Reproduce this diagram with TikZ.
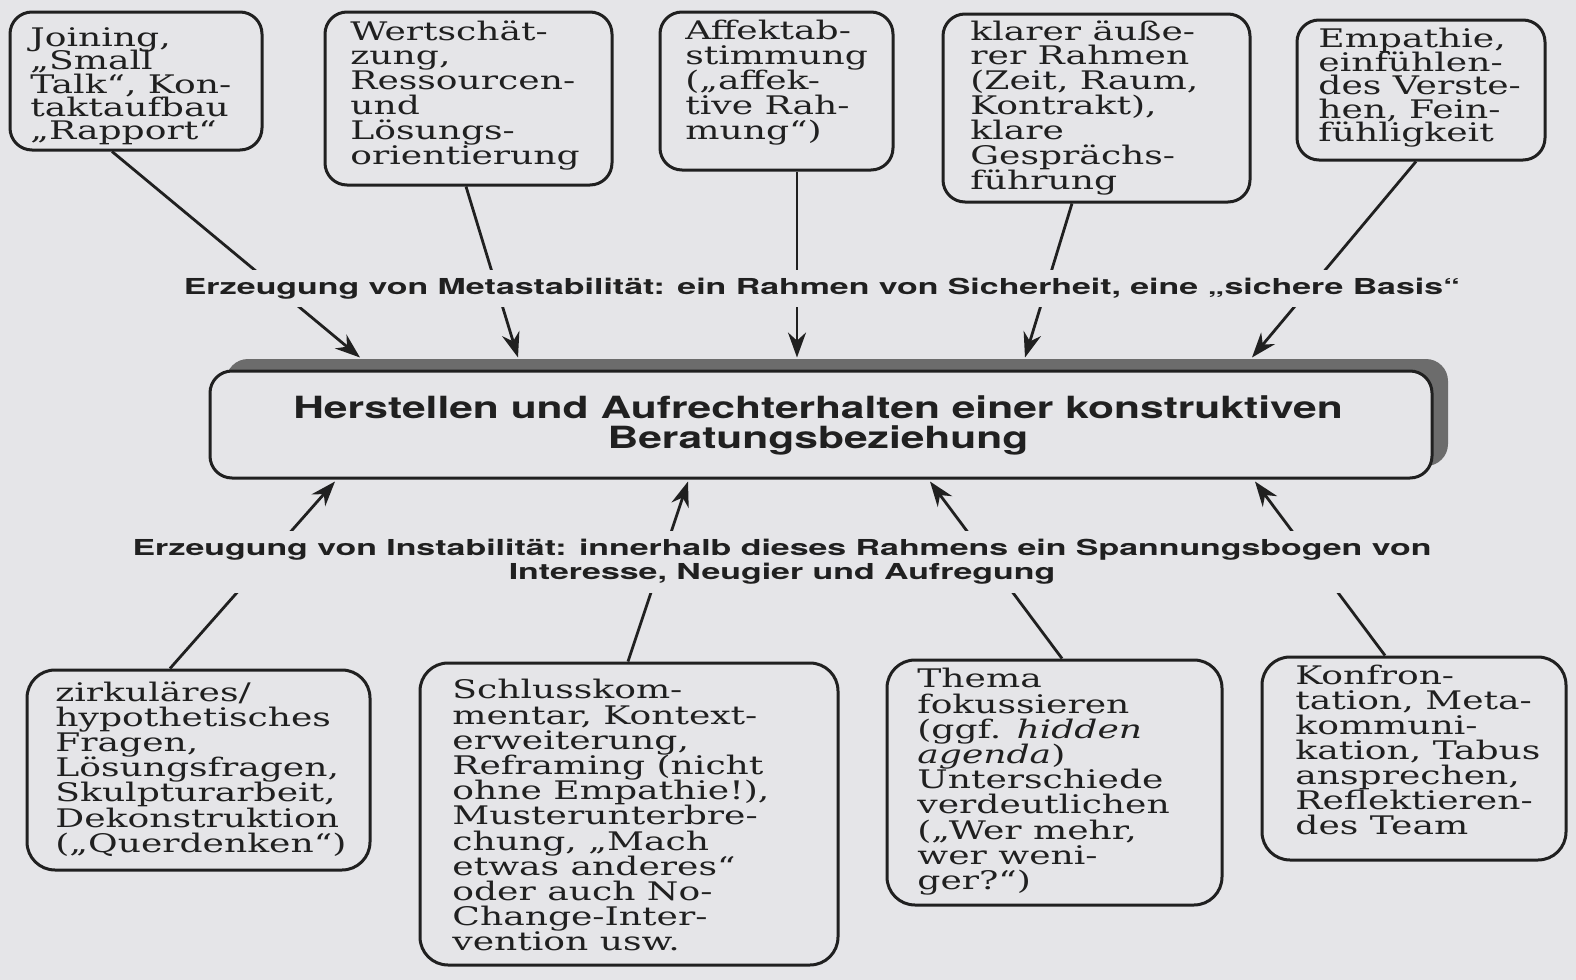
\documentclass[tikz,border=0pt]{standalone}
\usepackage{fontspec}
\setmainfont{DejaVu Serif}[FakeStretch=1.41]
\newfontfamily\headfont{TeX Gyre Heros}[FakeStretch=1.39]
\newfontfamily\labfont{TeX Gyre Heros}[FakeStretch=1.54]
\usetikzlibrary{arrows.meta,fit,calc}
\definecolor{bg}{RGB}{229,229,232}
\definecolor{ink}{RGB}{32,32,32}
\definecolor{shadowc}{RGB}{108,108,108}
\newcommand\tightlines{\lineskiplimit=-50pt\relax\lineskip=0pt\relax}
\tikzset{
  box/.style={draw=ink, line width=1.5pt, rounded corners=11pt, inner sep=0pt},
  bbox/.style={box, rounded corners=14pt},
  txt/.style={anchor=north west, inner sep=0pt, align=left, text=ink,
    font=\fontsize{12.8pt}{12.45pt}\selectfont\tightlines},
  txtsm/.style={txt, font=\fontsize{12.8pt}{11.7pt}\selectfont\tightlines},
  txtlg/.style={txt, font=\fontsize{12.8pt}{12.6pt}\selectfont\tightlines},
  conn/.style={draw=ink, line width=1.4pt, -{Stealth[length=12.5pt,width=9pt]}},
  lab/.style={fill=bg, inner xsep=2pt, inner ysep=4pt, text=ink, align=center,
    font=\labfont\bfseries\fontsize{11pt}{12pt}\selectfont},
  head/.style={inner sep=0pt, text=ink, align=center,
    font=\headfont\bfseries\fontsize{15.3pt}{15pt}\selectfont}
}
\begin{document}
\begin{tikzpicture}[x=0.5pt,y=-0.5pt]
\fill[bg] (0,0) rectangle (1576,980);
\useasboundingbox (0,0) rectangle (1576,980);

% top boxes
\node[box, fit={(10,12) (262,150)}] (b1) {};
\node[box, fit={(325,12) (612,185)}] (b2) {};
\node[box, fit={(660,12) (893,170)}] (b3) {};
\node[box, fit={(943,14) (1250,202)}] (b4) {};
\node[box, fit={(1297,20) (1545,160)}] (b5) {};

\node[txtsm] (t1) at (30,27) {Joining,\\„Small\\Talk“, Kon-\\taktaufbau\\„Rapport“};
\node[txt] (t2) at (350,20) {Wertschät-\\zung,\\Ressourcen-\\und\\Lösungs-\\orientierung};
\node[txt] (t3) at (685,20) {Affektab-\\stimmung\\(„affek-\\tive Rah-\\mung“)};
\node[txt] (t4) at (970,20) {klarer äuße-\\rer Rahmen\\(Zeit, Raum,\\Kontrakt),\\klare\\Gesprächs-\\führung};
\node[txtsm] (t5) at (1318,28) {Empathie,\\einfühlen-\\des Verste-\\hen, Fein-\\fühligkeit};

% main box with shadow
\node[box, draw=none, fill=shadowc, fit={(226,359) (1448,466)}] (sh) {};
\node[box, fill=bg, fit={(210,371) (1432,478)}] (m) {};
\node[head, anchor=north] (mt) at (818,395) {Herstellen und Aufrechterhalten einer konstruktiven\\Beratungsbeziehung};

% bottom boxes
\node[bbox, fit={(27,670) (370,870)}] (b6) {};
\node[bbox, fit={(420,663) (838,965)}] (b7) {};
\node[bbox, fit={(887,660) (1222,905)}] (b8) {};
\node[bbox, fit={(1262,657) (1566,860)}] (b9) {};

\node[txtlg] (t6) at (55,681) {zirkuläres/\\hypothetisches\\Fragen,\\Lösungsfragen,\\Skulpturarbeit,\\Dekonstruktion\\(„Querdenken“)};
\node[txtlg] (t7) at (452,679) {Schlusskom-\\mentar, Kontext-\\erweiterung,\\Reframing (nicht\\ohne Empathie!),\\Musterunterbre-\\chung, „Mach\\etwas anderes“\\oder auch No-\\Change-Inter-\\vention usw.};
\node[txtlg] (t8) at (917,668) {Thema\\fokussieren\\(ggf. \textit{hidden}\\\textit{agenda})\\Unterschiede\\verdeutlichen\\(„Wer mehr,\\wer weni-\\ger?“)};
\node[txt] (t9) at (1295,665) {Konfron-\\tation, Meta-\\kommuni-\\kation, Tabus\\ansprechen,\\Reflektieren-\\des Team};

% connectors top
\draw[conn] ($(b1.south)+(-24,0)$) -- ($(sh.north)+(-477,0)$);
\draw[conn] ($(b2.south)+(-2.5,0)$) -- ($(sh.north)+(-319,0)$);
\draw[conn] ($(b3.south)+(20.5,0)$) -- ($(sh.north)+(-40,0)$);
\draw[conn] ($(b4.south)+(-24.5,0)$) -- ($(sh.north)+(188,0)$);
\draw[conn] ($(b5.south)+(-5,0)$) -- ($(sh.north)+(415,0)$);

% connectors bottom
\draw[conn] ($(b6.north)+(-28.5,0)$) -- ($(m.south)+(-486,2)$);
\draw[conn] ($(b7.north)+(-1,0)$) -- ($(m.south)+(-133,2)$);
\draw[conn] ($(b8.north)+(7.5,0)$) -- ($(m.south)+(109,2)$);
\draw[conn] ($(b9.north)+(-29,0)$) -- ($(m.south)+(434,2)$);

% labels
\node[lab, anchor=base] (l1) at (822,294) {Erzeugung von Metastabilität: ein Rahmen von Sicherheit, eine „sichere Basis“};
\node[lab, anchor=north] (l2) at (782,531) {Erzeugung von Instabilität: innerhalb dieses Rahmens ein Spannungsbogen von\\Interesse, Neugier und Aufregung};
\end{tikzpicture}
\end{document}
